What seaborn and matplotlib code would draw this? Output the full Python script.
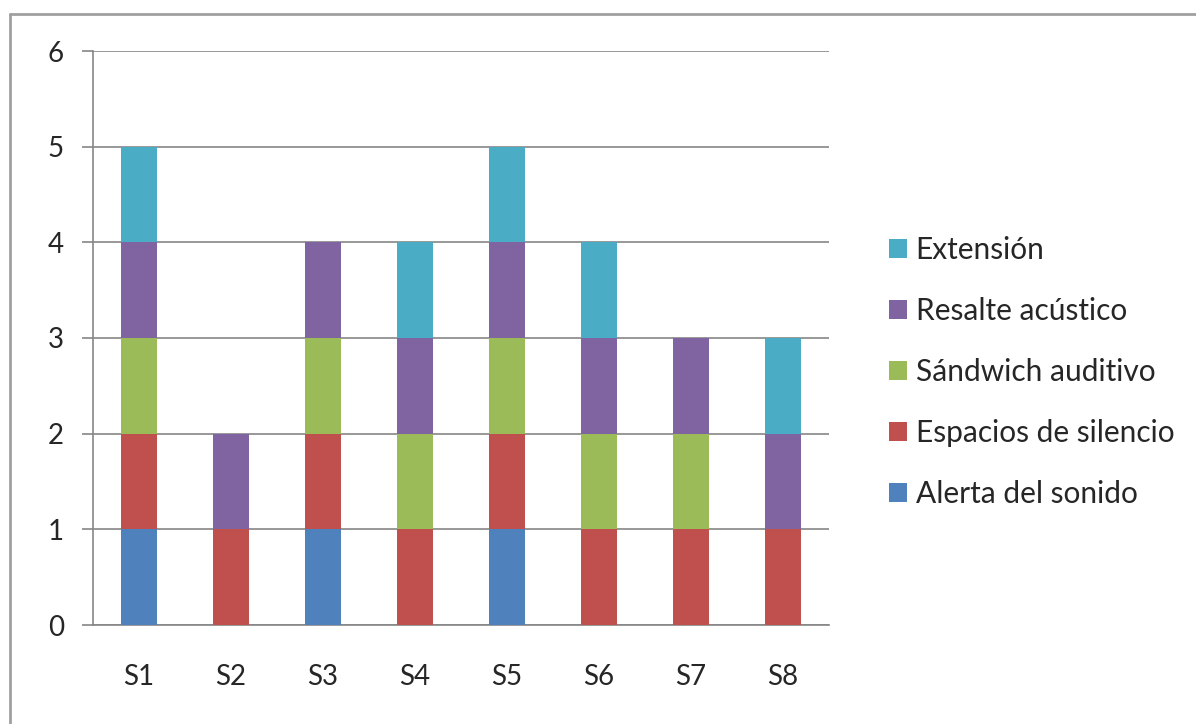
import numpy as np
import pandas as pd
import matplotlib
matplotlib.use("Agg")
import matplotlib.pyplot as plt
from matplotlib.lines import Line2D
import seaborn as sns

# data
sessions = ["S1", "S2", "S3", "S4", "S5", "S6", "S7", "S8"]
alerta = [1, 0, 1, 0, 1, 0, 0, 0]
espacios = [1, 1, 1, 1, 1, 1, 1, 1]
sandwich = [1, 0, 1, 1, 1, 1, 1, 0]
resalte = [1, 1, 1, 1, 1, 1, 1, 1]
extension = [1, 0, 0, 1, 1, 1, 0, 1]

series_names = ["Alerta del sonido", "Espacios de silencio", "Sándwich auditivo",
                "Resalte acústico", "Extensión"]
colors = ["#4F81BD", "#C0504D", "#9BBB59", "#8064A2", "#4BACC6"]

sns.set_style("white")
plt.rcParams["font.family"] = ["Lato", "DejaVu Sans"]

df = pd.DataFrame({"session": sessions})
cum = np.cumsum([alerta, espacios, sandwich, resalte, extension], axis=0)

fig = plt.figure(figsize=(11.96, 7.24), dpi=100)
ax = fig.add_axes([93 / 1196, 1 - 625 / 724, (829 - 93) / 1196, (625 - 51) / 724])

# stacked bars: draw cumulative totals from the top series down
for i in range(len(series_names) - 1, -1, -1):
    df["total"] = cum[i]
    sns.barplot(data=df, x="session", y="total", color=colors[i], width=0.4,
                saturation=1, label=series_names[i], ax=ax, zorder=3,
                linewidth=0)

gray = "#868686"
ax.set_xlim(-0.5, 7.5)
ax.set_ylim(0, 6)
ax.set_yticks(range(0, 7))
ax.yaxis.grid(True, color=gray, linewidth=1.2)
ax.set_axisbelow(True)
ax.set_xlabel("")
ax.set_ylabel("")
for side in ["top", "right"]:
    ax.spines[side].set_visible(False)
for side in ["left", "bottom"]:
    ax.spines[side].set_color(gray)
    ax.spines[side].set_linewidth(1.2)

ax.set_xticks(np.arange(-0.5, 8, 1), minor=True)
ax.tick_params(axis="x", which="major", length=0, pad=28, labelsize=20)
ax.tick_params(axis="x", which="minor", length=8, width=1.2, color=gray, direction="out")
ax.tick_params(axis="y", length=8, width=1.2, color=gray, pad=13, labelsize=20, left=True)

ax.legend(loc="center left", bbox_to_anchor=(862 / 1196, 1 - 372 / 724),
          bbox_transform=fig.transFigure, frameon=False, fontsize=21.5,
          handlelength=0.6, handleheight=0.6, handletextpad=0.3,
          labelspacing=1.1)

# outer chart border
fig.add_artist(Line2D([10 / 1196, 10 / 1196], [0, 1 - 14 / 724], color="#A0A0A0", lw=2))
fig.add_artist(Line2D([10 / 1196, 1], [1 - 14 / 724, 1 - 14 / 724], color="#A0A0A0", lw=2))

fig.savefig("out.png", dpi=100, facecolor="white")
